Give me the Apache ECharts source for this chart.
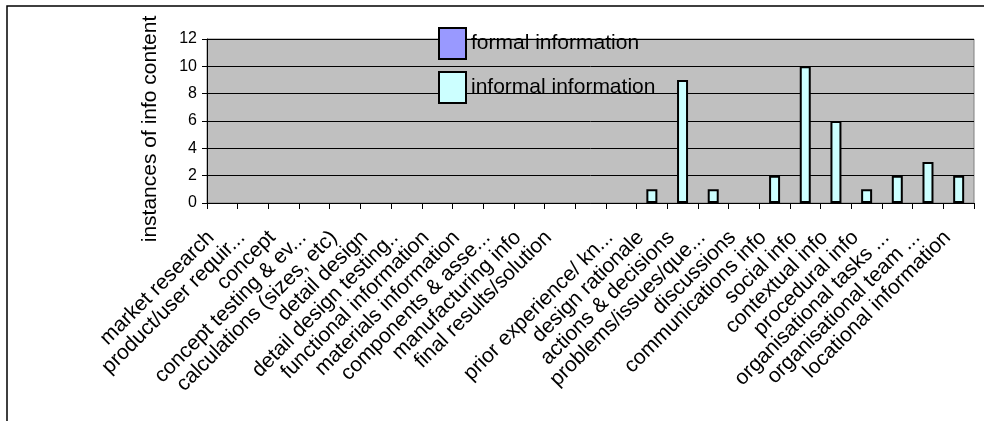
<!DOCTYPE html>
<html>
<head>
<meta charset="utf-8">
<script src="https://cdn.jsdelivr.net/npm/echarts@6/dist/echarts.min.js"></script>
<style>
  html, body { margin: 0; padding: 0; background: #fff; }
  #chart { width: 984px; height: 421px; }
</style>
</head>
<body>
<div id="chart"></div>
<script>
// categories along the x axis (13th one is empty in the original)
var categories = [
  'market research', 'product/user requir...', 'concept', 'concept testing & ev...',
  'calculations (sizes, etc)', 'detail design', 'detail design testing..',
  'functional information', 'materials information', 'components & asse...',
  'manufacturing info', 'final results/solution', '', 'prior experience/ kn...',
  'design rationale', 'actions & decisions', 'problems/issues/que...', 'discussions',
  'communications info', 'social info', 'contextual info', 'procedural info',
  'organisational tasks ...', 'organisational team ...', 'locational information'
];
var formalInfo = [null, null, null, null, null, null, null, null, null, null, null, null, null,
  null, null, null, null, null, null, null, null, null, null, null, null];
var informalInfo = [0, 0, 0, 0, 0, 0, 0, 0, 0, 0, 0, 0, 0, 0, 1, 9, 1, 0, 2, 10, 6, 1, 2, 3, 2];
var yTicks = [0, 2, 4, 6, 8, 10, 12];

var FONT = "'Liberation Sans', Arial, sans-serif";
var chart = echarts.init(document.getElementById('chart'));

var option = {
  animation: false,
  textStyle: { fontFamily: FONT },
  graphic: [{
    type: 'rect',
    shape: { x: 7, y: 6, width: 1000, height: 500 },
    style: { fill: 'none', stroke: '#000', lineWidth: 1.5 },
    silent: true
  }],
  grid: {
    left: 207, right: 10, top: 39, bottom: 218,
    show: true, backgroundColor: '#c0c0c0', borderColor: '#808080', borderWidth: 1
  },
  legend: {
    orient: 'vertical',
    left: 433, top: 22,
    itemWidth: 27, itemHeight: 31, itemGap: 11,
    icon: 'rect',
    textStyle: { fontSize: 21, color: '#000', fontFamily: FONT },
    itemStyle: { borderColor: '#000', borderWidth: 2 },
    data: ['formal information', 'informal information']
  },
  xAxis: {
    type: 'category',
    data: categories,
    axisLine: { lineStyle: { color: '#000', width: 1 } },
    axisTick: { show: true, length: 6, lineStyle: { color: '#000' } },
    axisLabel: {
      interval: 0, rotate: 45, margin: 20,
      fontSize: 21, color: '#000', fontFamily: FONT,
      padding: [0, 16, 0, 0]
    }
  },
  yAxis: {
    type: 'value',
    min: yTicks[0], max: yTicks[yTicks.length - 1], interval: 2,
    name: 'instances of info content',
    nameLocation: 'middle', nameGap: 46,
    nameTextStyle: { fontSize: 21, color: '#000', fontFamily: FONT, padding: [0, 16, 0, 0] },
    axisLine: { show: true, lineStyle: { color: '#000', width: 1 } },
    axisTick: { show: true, length: 5, lineStyle: { color: '#000' } },
    axisLabel: { fontSize: 16, color: '#000', margin: 10, fontFamily: FONT },
    splitLine: { show: true, lineStyle: { color: '#000', width: 1 } }
  },
  series: [
    {
      name: 'formal information',
      type: 'bar',
      data: formalInfo,
      barWidth: 11,
      barGap: '-100%',
      itemStyle: { color: '#9999ff', borderColor: '#000', borderWidth: 2 }
    },
    {
      name: 'informal information',
      type: 'bar',
      data: informalInfo.map(function (v) { return v === 0 ? null : v; }),
      barWidth: 11,
      itemStyle: { color: '#ccffff', borderColor: '#000', borderWidth: 2 }
    }
  ]
};

chart.setOption(option);
</script>
</body>
</html>
